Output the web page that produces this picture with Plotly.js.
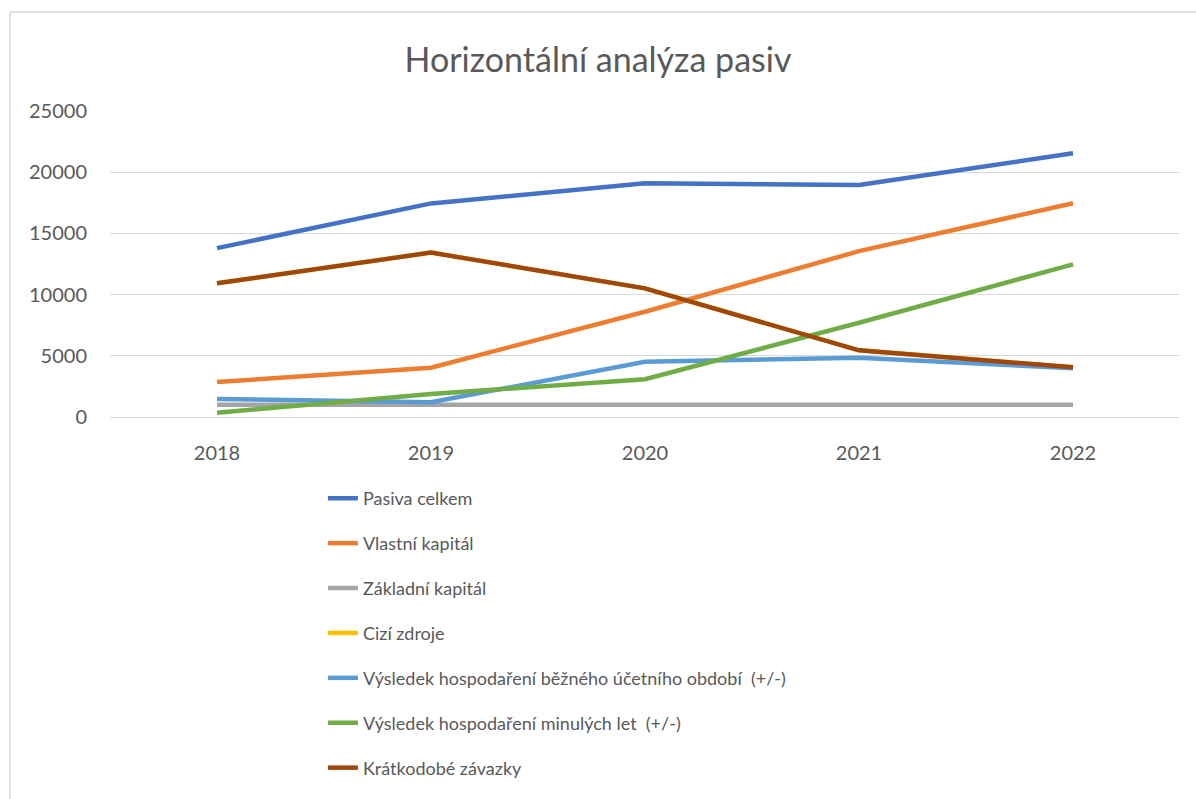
<!DOCTYPE html>
<html>
<head>
<meta charset="utf-8">
<script src="https://cdn.plot.ly/plotly-3.0.1.min.js"></script>
<style>html,body{margin:0;padding:0;background:#fff;}#chart{width:1196px;height:799px;}</style>
</head>
<body>
<div id="chart"></div>
<script>
const years = ['2018', '2019', '2020', '2021', '2022'];
const seriesNames = [
  'Pasiva celkem',
  'Vlastní kapitál',
  'Základní kapitál',
  'Cizí zdroje',
  'Výsledek hospodaření běžného účetního období  (+/-)',
  'Výsledek hospodaření minulých let  (+/-)',
  'Krátkodobé závazky'
];
const pasivaCelkem = [13800, 17450, 19100, 18950, 21550];
const vlastniKapital = [2860, 4030, 8600, 13550, 17460];
const zakladniKapital = [1000, 1000, 1000, 1000, 1000];
const ciziZdroje = [10920, 13430, 10510, 5450, 4060];
const vysledekBezny = [1470, 1200, 4520, 4850, 3980];
const vysledekMinule = [350, 1880, 3080, 7700, 12470];
const kratkodobeZavazky = [10920, 13430, 10510, 5450, 4060];
const seriesValues = [pasivaCelkem, vlastniKapital, zakladniKapital, ciziZdroje, vysledekBezny, vysledekMinule, kratkodobeZavazky];
const colors = ['#4472C4', '#ED7D31', '#A5A5A5', '#FFC000', '#5B9BD5', '#70AD47', '#9E480E'];

const FONT = 'Lato, "Open Sans", sans-serif';
const traces = seriesNames.map((n, i) => ({
  type: 'scatter', mode: 'lines', name: n, x: years, y: seriesValues[i],
  legendgroup: 'g' + i,
  line: {color: colors[i], width: 4.5},
  hoverinfo: 'x+y+name'
}));

const layout = {
  width: 1196, height: 799,
  margin: {l: 110, r: 16, t: 111, b: 382},
  paper_bgcolor: '#ffffff', plot_bgcolor: '#ffffff',
  font: {family: FONT, color: '#595959', size: 20},
  title: {text: 'Horizontální analýza pasiv', x: 0.5, xanchor: 'center', y: 0.925, yanchor: 'middle',
          font: {family: FONT, size: 34, color: '#595959'}},
  xaxis: {type: 'category', range: [-0.5, 4.5], showgrid: false, showline: true, linecolor: '#d9d9d9', linewidth: 1.3,
          ticks: '', ticklabelstandoff: 18, tickfont: {size: 20, color: '#595959'}, fixedrange: true},
  yaxis: {range: [0, 25000], dtick: 5000, tick0: 0, tickformat: 'd', showgrid: true, gridcolor: '#d9d9d9', gridwidth: 1.3,
          zeroline: false, showline: false, ticks: '', ticklabelstandoff: 22, tickfont: {size: 20, color: '#595959'}, fixedrange: true},
  showlegend: true,
  legend: {orientation: 'v', x: 0.199, xanchor: 'left', y: -0.206, yanchor: 'top', traceorder: 'grouped',
           tracegroupgap: 18.5, font: {family: FONT, size: 18, color: '#595959'}, bgcolor: 'rgba(0,0,0,0)'},
  shapes: [
    {type: 'line', xref: 'paper', yref: 'paper', x0: -0.0935, x1: -0.0935, y0: 1.3235, y1: -1.3, line: {color: '#d9d9d9', width: 1.5}},
    {type: 'line', xref: 'paper', yref: 'paper', x0: -0.0935, x1: 1.03, y0: 1.3235, y1: 1.3235, line: {color: '#d9d9d9', width: 1.5}}
  ]
};
Plotly.newPlot('chart', traces, layout, {displayModeBar: false, staticPlot: true});
</script>
</body>
</html>
